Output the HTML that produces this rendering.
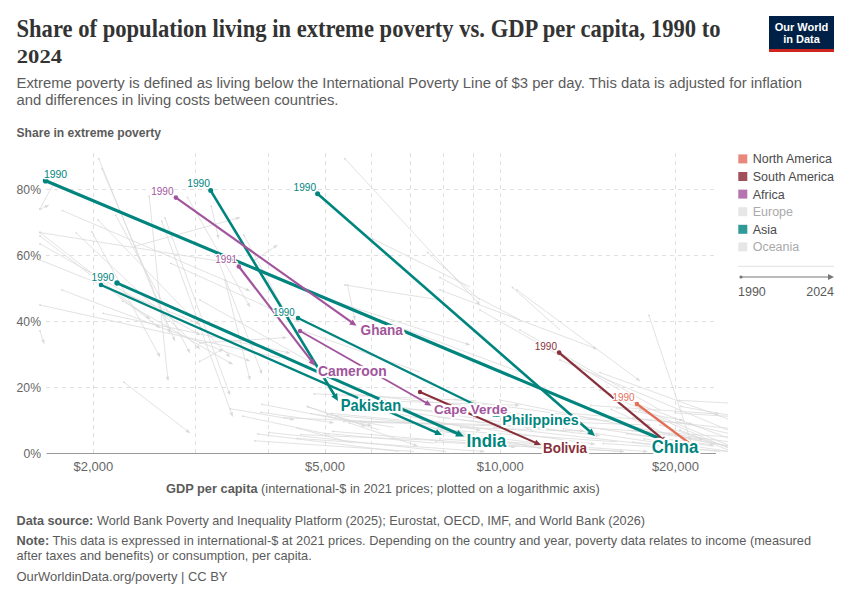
<!DOCTYPE html>
<html><head><meta charset="utf-8"><title>Share of population living in extreme poverty vs. GDP per capita</title>
<style>
html,body{margin:0;padding:0;background:#fff;}
svg{display:block;}
.t{font-family:"Liberation Serif",serif;font-weight:bold;fill:#333;}
.s{font-family:"Liberation Sans",sans-serif;}
</style></head><body>
<svg width="850" height="600" viewBox="0 0 850 600">
<rect width="850" height="600" fill="#fff"/>

<text class="t" x="16.5" y="36.9" font-size="24.5" textLength="704" lengthAdjust="spacingAndGlyphs">Share of population living in extreme poverty vs. GDP per capita, 1990 to</text>
<text class="t" x="16.8" y="62.7" font-size="18" textLength="45.2" lengthAdjust="spacingAndGlyphs">2024</text>
<rect x="769" y="16" width="65" height="36" fill="#002147"/><rect x="769" y="49" width="65" height="3" fill="#ce261e"/>
<text class="s" x="801.5" y="30.5" font-size="11" font-weight="bold" fill="#fff" text-anchor="middle">Our World</text>
<text class="s" x="801.5" y="43" font-size="11" font-weight="bold" fill="#fff" text-anchor="middle">in Data</text>
<text class="s" x="16.5" y="88" font-size="15.5" fill="#5b5b5b" textLength="785.5" lengthAdjust="spacingAndGlyphs">Extreme poverty is defined as living below the International Poverty Line of $3 per day. This data is adjusted for inflation</text>
<text class="s" x="16.5" y="105.3" font-size="15.5" fill="#5b5b5b" textLength="322" lengthAdjust="spacingAndGlyphs">and differences in living costs between countries.</text>
<text class="s" x="16.5" y="137" font-size="12" font-weight="bold" fill="#5b5b5b" textLength="144.5" lengthAdjust="spacingAndGlyphs">Share in extreme poverty</text>
<line x1="46" y1="387.5" x2="715" y2="387.5" stroke="#e0e0e0" stroke-width="1" stroke-dasharray="4,4"/>
<line x1="46" y1="321.5" x2="715" y2="321.5" stroke="#e0e0e0" stroke-width="1" stroke-dasharray="4,4"/>
<line x1="46" y1="255.5" x2="715" y2="255.5" stroke="#e0e0e0" stroke-width="1" stroke-dasharray="4,4"/>
<line x1="46" y1="189.5" x2="715" y2="189.5" stroke="#e0e0e0" stroke-width="1" stroke-dasharray="4,4"/>
<line x1="93.5" y1="153" x2="93.5" y2="453" stroke="#e0e0e0" stroke-width="1" stroke-dasharray="4,4"/>
<line x1="195.5" y1="153" x2="195.5" y2="453" stroke="#e0e0e0" stroke-width="1" stroke-dasharray="4,4"/>
<line x1="268.5" y1="153" x2="268.5" y2="453" stroke="#e0e0e0" stroke-width="1" stroke-dasharray="4,4"/>
<line x1="325.5" y1="153" x2="325.5" y2="453" stroke="#e0e0e0" stroke-width="1" stroke-dasharray="4,4"/>
<line x1="371.5" y1="153" x2="371.5" y2="453" stroke="#e0e0e0" stroke-width="1" stroke-dasharray="4,4"/>
<line x1="410.5" y1="153" x2="410.5" y2="453" stroke="#e0e0e0" stroke-width="1" stroke-dasharray="4,4"/>
<line x1="443.5" y1="153" x2="443.5" y2="453" stroke="#e0e0e0" stroke-width="1" stroke-dasharray="4,4"/>
<line x1="473.5" y1="153" x2="473.5" y2="453" stroke="#e0e0e0" stroke-width="1" stroke-dasharray="4,4"/>
<line x1="500.5" y1="153" x2="500.5" y2="453" stroke="#e0e0e0" stroke-width="1" stroke-dasharray="4,4"/>
<line x1="675.5" y1="153" x2="675.5" y2="453" stroke="#e0e0e0" stroke-width="1" stroke-dasharray="4,4"/>
<text class="s" x="23.4" y="458.0" font-size="12.8" fill="#666" textLength="17.6" lengthAdjust="spacingAndGlyphs">0%</text>
<text class="s" x="16.6" y="392.0" font-size="12.8" fill="#666" textLength="24.4" lengthAdjust="spacingAndGlyphs">20%</text>
<text class="s" x="16.6" y="326.0" font-size="12.8" fill="#666" textLength="24.4" lengthAdjust="spacingAndGlyphs">40%</text>
<text class="s" x="16.6" y="260.0" font-size="12.8" fill="#666" textLength="24.4" lengthAdjust="spacingAndGlyphs">60%</text>
<text class="s" x="16.6" y="194.0" font-size="12.8" fill="#666" textLength="24.4" lengthAdjust="spacingAndGlyphs">80%</text>
<text class="s" x="93.4" y="471.3" font-size="13" fill="#666" text-anchor="middle">$2,000</text>
<text class="s" x="325.0" y="471.3" font-size="13" fill="#666" text-anchor="middle">$5,000</text>
<text class="s" x="500.2" y="471.3" font-size="13" fill="#666" text-anchor="middle">$10,000</text>
<text class="s" x="675.4" y="471.3" font-size="13" fill="#666" text-anchor="middle">$20,000</text>
<text class="s" x="166" y="492.5" font-size="12.8" fill="#5b5b5b"><tspan font-weight="bold">GDP per capita</tspan> (international-$ in 2021 prices; plotted on a logarithmic axis)</text>
<g stroke="#dadada" stroke-width="0.8" fill="none">
<line x1="98.75" y1="158.75" x2="170" y2="333"/>
<circle cx="98.75" cy="158.75" r="0.9" fill="#dadada" stroke="none"/>
<polygon points="170,333 166.8,330.0 170.2,328.6" fill="#dadada" stroke="none"/>
<line x1="102" y1="168.75" x2="175" y2="341"/>
<circle cx="102" cy="168.75" r="0.9" fill="#dadada" stroke="none"/>
<polygon points="175,341 171.8,338.0 175.1,336.6" fill="#dadada" stroke="none"/>
<line x1="149.25" y1="196.25" x2="168" y2="380.8"/>
<circle cx="149.25" cy="196.25" r="0.9" fill="#dadada" stroke="none"/>
<polygon points="168,380.8 165.8,377.0 169.4,376.6" fill="#dadada" stroke="none"/>
<line x1="62.5" y1="210.6" x2="250" y2="291"/>
<circle cx="62.5" cy="210.6" r="0.9" fill="#dadada" stroke="none"/>
<polygon points="250,291 245.6,291.1 247.0,287.8" fill="#dadada" stroke="none"/>
<line x1="98.1" y1="220" x2="230" y2="357"/>
<circle cx="98.1" cy="220" r="0.9" fill="#dadada" stroke="none"/>
<polygon points="230,357 225.9,355.4 228.5,352.9" fill="#dadada" stroke="none"/>
<line x1="115.6" y1="215" x2="190" y2="353"/>
<circle cx="115.6" cy="215" r="0.9" fill="#dadada" stroke="none"/>
<polygon points="190,353 186.5,350.3 189.7,348.6" fill="#dadada" stroke="none"/>
<line x1="76.25" y1="233.1" x2="200" y2="349"/>
<circle cx="76.25" cy="233.1" r="0.9" fill="#dadada" stroke="none"/>
<polygon points="200,349 195.9,347.6 198.3,345.0" fill="#dadada" stroke="none"/>
<line x1="91.9" y1="231.9" x2="160" y2="357"/>
<circle cx="91.9" cy="231.9" r="0.9" fill="#dadada" stroke="none"/>
<polygon points="160,357 156.5,354.3 159.7,352.6" fill="#dadada" stroke="none"/>
<line x1="40" y1="232.5" x2="240" y2="264.5"/>
<circle cx="40" cy="232.5" r="0.9" fill="#dadada" stroke="none"/>
<line x1="40" y1="232.5" x2="150" y2="319"/>
<circle cx="40" cy="232.5" r="0.9" fill="#dadada" stroke="none"/>
<polygon points="150,319 145.7,317.9 148.0,315.1" fill="#dadada" stroke="none"/>
<line x1="40" y1="236" x2="160" y2="328"/>
<circle cx="40" cy="236" r="0.9" fill="#dadada" stroke="none"/>
<polygon points="160,328 155.7,327.0 157.9,324.1" fill="#dadada" stroke="none"/>
<line x1="40" y1="243.75" x2="200" y2="335"/>
<circle cx="40" cy="243.75" r="0.9" fill="#dadada" stroke="none"/>
<polygon points="200,335 195.6,334.6 197.4,331.5" fill="#dadada" stroke="none"/>
<line x1="40" y1="260" x2="200" y2="324"/>
<circle cx="40" cy="260" r="0.9" fill="#dadada" stroke="none"/>
<polygon points="200,324 195.6,324.2 197.0,320.8" fill="#dadada" stroke="none"/>
<line x1="161.75" y1="221.25" x2="232.6" y2="416.5"/>
<circle cx="161.75" cy="221.25" r="0.9" fill="#dadada" stroke="none"/>
<polygon points="232.6,416.5 229.5,413.4 232.9,412.1" fill="#dadada" stroke="none"/>
<line x1="187.5" y1="197.5" x2="250" y2="307"/>
<circle cx="187.5" cy="197.5" r="0.9" fill="#dadada" stroke="none"/>
<polygon points="250,307 246.5,304.4 249.6,302.6" fill="#dadada" stroke="none"/>
<line x1="211.25" y1="206.25" x2="218.75" y2="238.75"/>
<circle cx="211.25" cy="206.25" r="0.9" fill="#dadada" stroke="none"/>
<polygon points="218.75,238.75 216.1,235.3 219.6,234.4" fill="#dadada" stroke="none"/>
<line x1="135" y1="246.25" x2="240" y2="217.5"/>
<circle cx="135" cy="246.25" r="0.9" fill="#dadada" stroke="none"/>
<polygon points="240,217.5 236.6,220.3 235.7,216.8" fill="#dadada" stroke="none"/>
<line x1="40" y1="209.4" x2="48.75" y2="205"/>
<circle cx="40" cy="209.4" r="0.9" fill="#dadada" stroke="none"/>
<polygon points="48.75,205 46.0,208.4 44.4,205.2" fill="#dadada" stroke="none"/>
<line x1="40" y1="208.75" x2="55" y2="181"/>
<circle cx="40" cy="208.75" r="0.9" fill="#dadada" stroke="none"/>
<line x1="170.8" y1="263.3" x2="300" y2="322"/>
<circle cx="170.8" cy="263.3" r="0.9" fill="#dadada" stroke="none"/>
<polygon points="300,322 295.6,322.0 297.1,318.7" fill="#dadada" stroke="none"/>
<line x1="165" y1="218" x2="230" y2="395"/>
<circle cx="165" cy="218" r="0.9" fill="#dadada" stroke="none"/>
<polygon points="230,395 226.9,391.9 230.3,390.6" fill="#dadada" stroke="none"/>
<line x1="218" y1="260" x2="262" y2="374"/>
<circle cx="218" cy="260" r="0.9" fill="#dadada" stroke="none"/>
<polygon points="262,374 258.9,370.9 262.2,369.6" fill="#dadada" stroke="none"/>
<line x1="123.9" y1="382.2" x2="189.9" y2="433"/>
<circle cx="123.9" cy="382.2" r="0.9" fill="#dadada" stroke="none"/>
<polygon points="189.9,433 185.6,432.0 187.8,429.1" fill="#dadada" stroke="none"/>
<line x1="40" y1="331" x2="44.1" y2="343.6"/>
<circle cx="40" cy="331" r="0.9" fill="#dadada" stroke="none"/>
<polygon points="44.1,343.6 41.2,340.4 44.6,339.2" fill="#dadada" stroke="none"/>
<line x1="40" y1="305" x2="280" y2="358"/>
<circle cx="40" cy="305" r="0.9" fill="#dadada" stroke="none"/>
<line x1="62" y1="290" x2="250" y2="361"/>
<circle cx="62" cy="290" r="0.9" fill="#dadada" stroke="none"/>
<polygon points="250,361 245.6,361.3 246.9,357.9" fill="#dadada" stroke="none"/>
<line x1="103.3" y1="313.4" x2="290" y2="353"/>
<circle cx="103.3" cy="313.4" r="0.9" fill="#dadada" stroke="none"/>
<polygon points="290,353 285.7,353.9 286.5,350.4" fill="#dadada" stroke="none"/>
<line x1="199.6" y1="361.5" x2="223" y2="349"/>
<circle cx="199.6" cy="361.5" r="0.9" fill="#dadada" stroke="none"/>
<polygon points="223,349 220.3,352.5 218.6,349.3" fill="#dadada" stroke="none"/>
<line x1="122.5" y1="301" x2="232.6" y2="364.3"/>
<circle cx="122.5" cy="301" r="0.9" fill="#dadada" stroke="none"/>
<polygon points="232.6,364.3 228.2,363.9 230.0,360.7" fill="#dadada" stroke="none"/>
<line x1="243.75" y1="235" x2="300" y2="340"/>
<circle cx="243.75" cy="235" r="0.9" fill="#dadada" stroke="none"/>
<line x1="255" y1="260" x2="277.5" y2="245"/>
<circle cx="255" cy="260" r="0.9" fill="#dadada" stroke="none"/>
<polygon points="277.5,245 275.2,248.7 273.2,245.7" fill="#dadada" stroke="none"/>
<line x1="345" y1="158.75" x2="480" y2="305"/>
<circle cx="345" cy="158.75" r="0.9" fill="#dadada" stroke="none"/>
<polygon points="480,305 476.0,303.3 478.6,300.8" fill="#dadada" stroke="none"/>
<line x1="372.5" y1="238.75" x2="470" y2="287"/>
<circle cx="372.5" cy="238.75" r="0.9" fill="#dadada" stroke="none"/>
<line x1="427.5" y1="252.5" x2="480" y2="300"/>
<circle cx="427.5" cy="252.5" r="0.9" fill="#dadada" stroke="none"/>
<line x1="345" y1="285" x2="440" y2="300"/>
<circle cx="345" cy="285" r="0.9" fill="#dadada" stroke="none"/>
<line x1="347.5" y1="285" x2="355" y2="320"/>
<circle cx="347.5" cy="285" r="0.9" fill="#dadada" stroke="none"/>
<polygon points="355,320 352.4,316.5 355.9,315.7" fill="#dadada" stroke="none"/>
<line x1="440" y1="277.5" x2="520" y2="320"/>
<circle cx="440" cy="277.5" r="0.9" fill="#dadada" stroke="none"/>
<line x1="512.5" y1="287.5" x2="560" y2="330"/>
<circle cx="512.5" cy="287.5" r="0.9" fill="#dadada" stroke="none"/>
<line x1="517" y1="290" x2="640" y2="381"/>
<circle cx="517" cy="290" r="0.9" fill="#dadada" stroke="none"/>
<polygon points="640,381 635.7,380.1 637.9,377.2" fill="#dadada" stroke="none"/>
<line x1="440" y1="290" x2="597" y2="349"/>
<circle cx="440" cy="290" r="0.9" fill="#dadada" stroke="none"/>
<polygon points="597,349 592.6,349.3 593.9,345.9" fill="#dadada" stroke="none"/>
<line x1="648.9" y1="315.3" x2="690.7" y2="441.2"/>
<circle cx="648.9" cy="315.3" r="0.9" fill="#dadada" stroke="none"/>
<polygon points="690.7,441.2 687.7,438.0 691.1,436.8" fill="#dadada" stroke="none"/>
<line x1="600" y1="372.5" x2="728" y2="419"/>
<circle cx="600" cy="372.5" r="0.9" fill="#dadada" stroke="none"/>
<line x1="200" y1="300" x2="330" y2="373"/>
<circle cx="200" cy="300" r="0.9" fill="#dadada" stroke="none"/>
<line x1="200" y1="343" x2="286.7" y2="337.5"/>
<circle cx="200" cy="343" r="0.9" fill="#dadada" stroke="none"/>
<polygon points="286.7,337.5 282.8,339.5 282.6,336.0" fill="#dadada" stroke="none"/>
<line x1="225" y1="280" x2="250" y2="380"/>
<circle cx="225" cy="280" r="0.9" fill="#dadada" stroke="none"/>
<polygon points="250,380 247.3,376.6 250.8,375.7" fill="#dadada" stroke="none"/>
<line x1="300" y1="330" x2="420" y2="372"/>
<circle cx="300" cy="330" r="0.9" fill="#dadada" stroke="none"/>
<line x1="330" y1="300" x2="470" y2="345"/>
<circle cx="330" cy="300" r="0.9" fill="#dadada" stroke="none"/>
<polygon points="470,345 465.6,345.5 466.7,342.1" fill="#dadada" stroke="none"/>
<line x1="380" y1="320" x2="520" y2="372"/>
<circle cx="380" cy="320" r="0.9" fill="#dadada" stroke="none"/>
<line x1="480" y1="310" x2="620" y2="390"/>
<circle cx="480" cy="310" r="0.9" fill="#dadada" stroke="none"/>
<line x1="520" y1="330" x2="660" y2="410"/>
<circle cx="520" cy="330" r="0.9" fill="#dadada" stroke="none"/>
<line x1="560" y1="360" x2="728" y2="430"/>
<circle cx="560" cy="360" r="0.9" fill="#dadada" stroke="none"/>
<line x1="600" y1="390" x2="728" y2="438"/>
<circle cx="600" cy="390" r="0.9" fill="#dadada" stroke="none"/>
<line x1="620" y1="400" x2="728" y2="445"/>
<circle cx="620" cy="400" r="0.9" fill="#dadada" stroke="none"/>
<line x1="640" y1="410" x2="728" y2="448"/>
<circle cx="640" cy="410" r="0.9" fill="#dadada" stroke="none"/>
<line x1="660" y1="425" x2="728" y2="447"/>
<circle cx="660" cy="425" r="0.9" fill="#dadada" stroke="none"/>
<line x1="680" y1="430" x2="728" y2="450"/>
<circle cx="680" cy="430" r="0.9" fill="#dadada" stroke="none"/>
<line x1="500" y1="400" x2="728" y2="446"/>
<circle cx="500" cy="400" r="0.9" fill="#dadada" stroke="none"/>
<line x1="379.0" y1="408.7" x2="520.1" y2="413.3"/>
<circle cx="379.0" cy="408.7" r="0.9" fill="#dadada" stroke="none"/>
<line x1="398.2" y1="401.4" x2="519.3" y2="405.2"/>
<circle cx="398.2" cy="401.4" r="0.9" fill="#dadada" stroke="none"/>
<polygon points="519.3,405.2 515.2,406.9 515.4,403.3" fill="#dadada" stroke="none"/>
<line x1="262.1" y1="404.3" x2="371.6" y2="425.5"/>
<circle cx="262.1" cy="404.3" r="0.9" fill="#dadada" stroke="none"/>
<polygon points="371.6,425.5 367.3,426.5 368.0,423.0" fill="#dadada" stroke="none"/>
<line x1="332.7" y1="431.3" x2="515.4" y2="447.0"/>
<circle cx="332.7" cy="431.3" r="0.9" fill="#dadada" stroke="none"/>
<polygon points="515.4,447.0 511.3,448.5 511.6,444.9" fill="#dadada" stroke="none"/>
<line x1="679.1" y1="400.3" x2="728" y2="403.0"/>
<circle cx="679.1" cy="400.3" r="0.9" fill="#dadada" stroke="none"/>
<line x1="284.2" y1="417.7" x2="448.4" y2="424.7"/>
<circle cx="284.2" cy="417.7" r="0.9" fill="#dadada" stroke="none"/>
<line x1="523.9" y1="420.7" x2="650.6" y2="425.1"/>
<circle cx="523.9" cy="420.7" r="0.9" fill="#dadada" stroke="none"/>
<polygon points="650.6,425.1 646.5,426.8 646.7,423.2" fill="#dadada" stroke="none"/>
<line x1="324.7" y1="433.3" x2="434.6" y2="443.2"/>
<circle cx="324.7" cy="433.3" r="0.9" fill="#dadada" stroke="none"/>
<line x1="438.5" y1="417.2" x2="599.7" y2="435.6"/>
<circle cx="438.5" cy="417.2" r="0.9" fill="#dadada" stroke="none"/>
<polygon points="599.7,435.6 595.5,436.9 595.9,433.4" fill="#dadada" stroke="none"/>
<line x1="494.2" y1="427.3" x2="666.8" y2="446.4"/>
<circle cx="494.2" cy="427.3" r="0.9" fill="#dadada" stroke="none"/>
<polygon points="666.8,446.4 662.6,447.7 663.0,444.2" fill="#dadada" stroke="none"/>
<line x1="680.9" y1="406.4" x2="728" y2="415.0"/>
<circle cx="680.9" cy="406.4" r="0.9" fill="#dadada" stroke="none"/>
<line x1="454.9" y1="399.4" x2="598.5" y2="419.3"/>
<circle cx="454.9" cy="399.4" r="0.9" fill="#dadada" stroke="none"/>
<line x1="632.7" y1="417.9" x2="728" y2="428.3"/>
<circle cx="632.7" cy="417.9" r="0.9" fill="#dadada" stroke="none"/>
<line x1="439.9" y1="438.8" x2="622.1" y2="451.5"/>
<circle cx="439.9" cy="438.8" r="0.9" fill="#dadada" stroke="none"/>
<line x1="257.9" y1="434.0" x2="398.5" y2="451.5"/>
<circle cx="257.9" cy="434.0" r="0.9" fill="#dadada" stroke="none"/>
<line x1="360.9" y1="421.4" x2="504.5" y2="424.9"/>
<circle cx="360.9" cy="421.4" r="0.9" fill="#dadada" stroke="none"/>
<line x1="307.3" y1="406.4" x2="365.6" y2="426.3"/>
<circle cx="307.3" cy="406.4" r="0.9" fill="#dadada" stroke="none"/>
<polygon points="365.6,426.3 361.2,426.7 362.4,423.3" fill="#dadada" stroke="none"/>
<line x1="343.9" y1="421.6" x2="515.9" y2="426.4"/>
<circle cx="343.9" cy="421.6" r="0.9" fill="#dadada" stroke="none"/>
<polygon points="515.9,426.4 511.9,428.1 512.0,424.5" fill="#dadada" stroke="none"/>
<line x1="482.7" y1="440.3" x2="647.4" y2="451.5"/>
<circle cx="482.7" cy="440.3" r="0.9" fill="#dadada" stroke="none"/>
<polygon points="647.4,451.5 643.3,453.0 643.5,449.4" fill="#dadada" stroke="none"/>
<line x1="421.0" y1="420.1" x2="594.8" y2="444.2"/>
<circle cx="421.0" cy="420.1" r="0.9" fill="#dadada" stroke="none"/>
<polygon points="594.8,444.2 590.6,445.4 591.1,441.9" fill="#dadada" stroke="none"/>
<line x1="311.1" y1="413.6" x2="393.7" y2="427.3"/>
<circle cx="311.1" cy="413.6" r="0.9" fill="#dadada" stroke="none"/>
<line x1="350.9" y1="393.9" x2="459.5" y2="405.0"/>
<circle cx="350.9" cy="393.9" r="0.9" fill="#dadada" stroke="none"/>
<line x1="668.4" y1="433.6" x2="728" y2="441.7"/>
<circle cx="668.4" cy="433.6" r="0.9" fill="#dadada" stroke="none"/>
<line x1="254.8" y1="440.8" x2="414.0" y2="451.5"/>
<circle cx="254.8" cy="440.8" r="0.9" fill="#dadada" stroke="none"/>
<line x1="410.5" y1="422.0" x2="475.0" y2="438.9"/>
<circle cx="410.5" cy="422.0" r="0.9" fill="#dadada" stroke="none"/>
<polygon points="475.0,438.9 470.7,439.6 471.6,436.1" fill="#dadada" stroke="none"/>
<line x1="261.0" y1="412.3" x2="333.7" y2="422.8"/>
<circle cx="261.0" cy="412.3" r="0.9" fill="#dadada" stroke="none"/>
<polygon points="333.7,422.8 329.5,424.0 330.0,420.4" fill="#dadada" stroke="none"/>
<line x1="230.1" y1="408.7" x2="294.3" y2="419.7"/>
<circle cx="230.1" cy="408.7" r="0.9" fill="#dadada" stroke="none"/>
<polygon points="294.3,419.7 290.1,420.8 290.7,417.3" fill="#dadada" stroke="none"/>
<line x1="632.2" y1="430.8" x2="703.0" y2="439.4"/>
<circle cx="632.2" cy="430.8" r="0.9" fill="#dadada" stroke="none"/>
<polygon points="703.0,439.4 698.8,440.7 699.2,437.1" fill="#dadada" stroke="none"/>
<line x1="397.5" y1="406.8" x2="566.4" y2="431.6"/>
<circle cx="397.5" cy="406.8" r="0.9" fill="#dadada" stroke="none"/>
<line x1="452.6" y1="403.9" x2="516.9" y2="414.5"/>
<circle cx="452.6" cy="403.9" r="0.9" fill="#dadada" stroke="none"/>
<polygon points="516.9,414.5 512.7,415.6 513.2,412.1" fill="#dadada" stroke="none"/>
<line x1="611.3" y1="409.4" x2="664.5" y2="433.3"/>
<circle cx="611.3" cy="409.4" r="0.9" fill="#dadada" stroke="none"/>
<line x1="297.4" y1="428.1" x2="351.2" y2="442.7"/>
<circle cx="297.4" cy="428.1" r="0.9" fill="#dadada" stroke="none"/>
<line x1="627.1" y1="433.8" x2="713.7" y2="444.9"/>
<circle cx="627.1" cy="433.8" r="0.9" fill="#dadada" stroke="none"/>
<polygon points="713.7,444.9 709.5,446.2 710.0,442.6" fill="#dadada" stroke="none"/>
<line x1="585.1" y1="427.6" x2="728" y2="436.8"/>
<circle cx="585.1" cy="427.6" r="0.9" fill="#dadada" stroke="none"/>
<line x1="603.3" y1="443.5" x2="728" y2="451.5"/>
<circle cx="603.3" cy="443.5" r="0.9" fill="#dadada" stroke="none"/>
<line x1="570.3" y1="413.3" x2="692.8" y2="424.2"/>
<circle cx="570.3" cy="413.3" r="0.9" fill="#dadada" stroke="none"/>
<polygon points="692.8,424.2 688.7,425.6 689.0,422.1" fill="#dadada" stroke="none"/>
<line x1="242.9" y1="416.2" x2="329.1" y2="434.4"/>
<circle cx="242.9" cy="416.2" r="0.9" fill="#dadada" stroke="none"/>
<line x1="435.7" y1="442.0" x2="624.1" y2="451.5"/>
<circle cx="435.7" cy="442.0" r="0.9" fill="#dadada" stroke="none"/>
<polygon points="624.1,451.5 620.0,453.1 620.2,449.5" fill="#dadada" stroke="none"/>
<line x1="331.4" y1="413.4" x2="409.0" y2="420.8"/>
<circle cx="331.4" cy="413.4" r="0.9" fill="#dadada" stroke="none"/>
<line x1="644.1" y1="438.8" x2="728" y2="451.3"/>
<circle cx="644.1" cy="438.8" r="0.9" fill="#dadada" stroke="none"/>
<line x1="269.0" y1="432.5" x2="446.4" y2="451.5"/>
<circle cx="269.0" cy="432.5" r="0.9" fill="#dadada" stroke="none"/>
<line x1="449.9" y1="410.5" x2="610.4" y2="420.8"/>
<circle cx="449.9" cy="410.5" r="0.9" fill="#dadada" stroke="none"/>
<line x1="677.0" y1="421.8" x2="728" y2="433.3"/>
<circle cx="677.0" cy="421.8" r="0.9" fill="#dadada" stroke="none"/>
<line x1="308.2" y1="407.1" x2="379.4" y2="430.0"/>
<circle cx="308.2" cy="407.1" r="0.9" fill="#dadada" stroke="none"/>
<line x1="297.2" y1="438.4" x2="484.5" y2="451.5"/>
<circle cx="297.2" cy="438.4" r="0.9" fill="#dadada" stroke="none"/>
<polygon points="484.5,451.5 480.4,453.0 480.6,449.4" fill="#dadada" stroke="none"/>
<line x1="482.4" y1="407.4" x2="534.4" y2="431.7"/>
<circle cx="482.4" cy="407.4" r="0.9" fill="#dadada" stroke="none"/>
<line x1="472.2" y1="441.9" x2="583.0" y2="451.5"/>
<circle cx="472.2" cy="441.9" r="0.9" fill="#dadada" stroke="none"/>
<line x1="327.1" y1="414.7" x2="418.1" y2="423.0"/>
<circle cx="327.1" cy="414.7" r="0.9" fill="#dadada" stroke="none"/>
<line x1="349.3" y1="422.9" x2="417.7" y2="445.9"/>
<circle cx="349.3" cy="422.9" r="0.9" fill="#dadada" stroke="none"/>
<polygon points="417.7,445.9 413.3,446.3 414.5,442.9" fill="#dadada" stroke="none"/>
<line x1="440.8" y1="429.6" x2="617.4" y2="441.9"/>
<circle cx="440.8" cy="429.6" r="0.9" fill="#dadada" stroke="none"/>
<line x1="460.8" y1="427.6" x2="584.0" y2="431.0"/>
<circle cx="460.8" cy="427.6" r="0.9" fill="#dadada" stroke="none"/>
<polygon points="584.0,431.0 580.0,432.7 580.1,429.1" fill="#dadada" stroke="none"/>
<line x1="314.2" y1="393.9" x2="476.1" y2="400.7"/>
<circle cx="314.2" cy="393.9" r="0.9" fill="#dadada" stroke="none"/>
<line x1="563.6" y1="428.6" x2="659.2" y2="443.0"/>
<circle cx="563.6" cy="428.6" r="0.9" fill="#dadada" stroke="none"/>
<line x1="590.8" y1="405.5" x2="719.2" y2="414.0"/>
<circle cx="590.8" cy="405.5" r="0.9" fill="#dadada" stroke="none"/>
<polygon points="719.2,414.0 715.1,415.5 715.3,411.9" fill="#dadada" stroke="none"/>
<line x1="585.2" y1="426.6" x2="713.9" y2="446.3"/>
<circle cx="585.2" cy="426.6" r="0.9" fill="#dadada" stroke="none"/>
<line x1="433.9" y1="430.8" x2="554.7" y2="445.0"/>
<circle cx="433.9" cy="430.8" r="0.9" fill="#dadada" stroke="none"/>
<line x1="438.1" y1="427.7" x2="555.0" y2="451.4"/>
<circle cx="438.1" cy="427.7" r="0.9" fill="#dadada" stroke="none"/>
<line x1="633.2" y1="442.2" x2="719.5" y2="451.5"/>
<circle cx="633.2" cy="442.2" r="0.9" fill="#dadada" stroke="none"/>
<line x1="616.4" y1="407.8" x2="683.4" y2="420.5"/>
<circle cx="616.4" cy="407.8" r="0.9" fill="#dadada" stroke="none"/>
<polygon points="683.4,420.5 679.1,421.5 679.8,418.0" fill="#dadada" stroke="none"/>
<line x1="340.7" y1="402.8" x2="484.4" y2="423.1"/>
<circle cx="340.7" cy="402.8" r="0.9" fill="#dadada" stroke="none"/>
<line x1="301.0" y1="434.6" x2="443.5" y2="440.7"/>
<circle cx="301.0" cy="434.6" r="0.9" fill="#dadada" stroke="none"/>
<line x1="675.1" y1="412.9" x2="728" y2="416.3"/>
<circle cx="675.1" cy="412.9" r="0.9" fill="#dadada" stroke="none"/>
<line x1="685.3" y1="438.6" x2="728" y2="445.9"/>
<circle cx="685.3" cy="438.6" r="0.9" fill="#dadada" stroke="none"/>
<line x1="386.0" y1="411.5" x2="480.6" y2="430.4"/>
<circle cx="386.0" cy="411.5" r="0.9" fill="#dadada" stroke="none"/>
<polygon points="480.6,430.4 476.3,431.4 477.0,427.9" fill="#dadada" stroke="none"/>
</g>
<line x1="46.5" y1="453.5" x2="716" y2="453.5" stroke="#999" stroke-width="1"/>
<line x1="45.6" y1="180.8" x2="662" y2="439.5" stroke="#00847e" stroke-width="3.1"/><circle cx="45.6" cy="180.8" r="2.8" fill="#00847e"/>
<line x1="210.7" y1="190.6" x2="334.7" y2="395.5" stroke="#00847e" stroke-width="2.6"/><polygon points="338.0,401.0 331.3,396.4 337.1,392.9" fill="#00847e"/><circle cx="210.7" cy="190.6" r="2.5" fill="#00847e"/>
<line x1="317.6" y1="193.8" x2="590.2" y2="431.8" stroke="#00847e" stroke-width="2.6"/><polygon points="595.0,436.0 587.2,433.7 591.6,428.6" fill="#00847e"/><circle cx="317.6" cy="193.8" r="2.5" fill="#00847e"/>
<line x1="298" y1="318" x2="494.8" y2="414.4" stroke="#00847e" stroke-width="2.2"/><polygon points="500.0,417.0 492.5,416.8 495.2,411.3" fill="#00847e"/><circle cx="298" cy="318" r="2.3" fill="#00847e"/>
<line x1="101" y1="285" x2="436.6" y2="432.6" stroke="#00847e" stroke-width="2.3"/><polygon points="442.0,435.0 434.4,435.1 436.9,429.3" fill="#00847e"/><circle cx="101" cy="285" r="2.3" fill="#00847e"/>
<line x1="117" y1="283" x2="457.6" y2="433.7" stroke="#00847e" stroke-width="3.0"/><polygon points="464.0,436.5 455.2,436.6 458.2,429.9" fill="#00847e"/><circle cx="117" cy="283" r="2.7" fill="#00847e"/>
<line x1="175.9" y1="197.6" x2="351.8" y2="322.4" stroke="#a2559c" stroke-width="2.2"/><polygon points="356.5,325.8 349.2,324.4 352.7,319.4" fill="#a2559c"/><circle cx="175.9" cy="197.6" r="2.3" fill="#a2559c"/>
<line x1="238.8" y1="266.5" x2="311.8" y2="361.3" stroke="#a2559c" stroke-width="2.2"/><polygon points="315.3,365.9 308.7,362.4 313.6,358.6" fill="#a2559c"/><circle cx="238.8" cy="266.5" r="2.3" fill="#a2559c"/>
<line x1="300" y1="331" x2="426.6" y2="403.0" stroke="#a2559c" stroke-width="2.0"/><polygon points="431.4,405.7 424.3,405.0 427.2,400.0" fill="#a2559c"/><circle cx="300" cy="331" r="2.2" fill="#a2559c"/>
<line x1="420" y1="392" x2="536.0" y2="442.8" stroke="#883039" stroke-width="2.0"/><polygon points="541.0,445.0 533.9,445.0 536.2,439.7" fill="#883039"/><circle cx="420" cy="392" r="2.2" fill="#883039"/>
<line x1="559.1" y1="352.6" x2="662.9" y2="439.3" stroke="#883039" stroke-width="2.2"/><polygon points="667.4,443.0 660.2,441.0 664.1,436.3" fill="#883039"/><circle cx="559.1" cy="352.6" r="2.3" fill="#883039"/>
<line x1="636.9" y1="404" x2="690.4" y2="444.0" stroke="#e56e5a" stroke-width="2.2"/><polygon points="695.0,447.5 687.7,445.9 691.4,441.0" fill="#e56e5a"/><circle cx="636.9" cy="404" r="2.3" fill="#e56e5a"/>
<text class="s" x="44" y="177.7" font-size="10" fill="#00847e" stroke="#fff" stroke-width="2.5" paint-order="stroke" stroke-linejoin="round" textLength="23.1" lengthAdjust="spacingAndGlyphs">1990</text>
<text class="s" x="187.2" y="186.6" font-size="10" fill="#00847e" stroke="#fff" stroke-width="2.5" paint-order="stroke" stroke-linejoin="round" textLength="22.8" lengthAdjust="spacingAndGlyphs">1990</text>
<text class="s" x="293.6" y="190.7" font-size="10" fill="#00847e" stroke="#fff" stroke-width="2.5" paint-order="stroke" stroke-linejoin="round" textLength="22.4" lengthAdjust="spacingAndGlyphs">1990</text>
<text class="s" x="273" y="315.6" font-size="10" fill="#00847e" stroke="#fff" stroke-width="2.5" paint-order="stroke" stroke-linejoin="round" textLength="21.7" lengthAdjust="spacingAndGlyphs">1990</text>
<text class="s" x="91.6" y="280.5" font-size="10" fill="#00847e" stroke="#fff" stroke-width="2.5" paint-order="stroke" stroke-linejoin="round" textLength="22.4" lengthAdjust="spacingAndGlyphs">1990</text>
<text class="s" x="151.2" y="194.6" font-size="10" fill="#a2559c" stroke="#fff" stroke-width="2.5" paint-order="stroke" stroke-linejoin="round" textLength="22.3" lengthAdjust="spacingAndGlyphs">1990</text>
<text class="s" x="215.3" y="263" font-size="10" fill="#a2559c" stroke="#fff" stroke-width="2.5" paint-order="stroke" stroke-linejoin="round" textLength="21.7" lengthAdjust="spacingAndGlyphs">1991</text>
<text class="s" x="534.7" y="349.6" font-size="10" fill="#883039" stroke="#fff" stroke-width="2.5" paint-order="stroke" stroke-linejoin="round" textLength="22.3" lengthAdjust="spacingAndGlyphs">1990</text>
<text class="s" x="612.4" y="400.5" font-size="10" fill="#e56e5a" stroke="#fff" stroke-width="2.5" paint-order="stroke" stroke-linejoin="round" textLength="22.1" lengthAdjust="spacingAndGlyphs">1990</text>
<text class="s" x="651.7" y="453.4" font-size="18.8" font-weight="bold" fill="#00847e" stroke="#fff" stroke-width="4.5" paint-order="stroke" stroke-linejoin="round" textLength="46.6" lengthAdjust="spacingAndGlyphs">China</text>
<text class="s" x="466.6" y="447.4" font-size="18.7" font-weight="bold" fill="#00847e" stroke="#fff" stroke-width="4.5" paint-order="stroke" stroke-linejoin="round" textLength="39.6" lengthAdjust="spacingAndGlyphs">India</text>
<text class="s" x="340.8" y="411.4" font-size="15.9" font-weight="bold" fill="#00847e" stroke="#fff" stroke-width="4.5" paint-order="stroke" stroke-linejoin="round" textLength="60.4" lengthAdjust="spacingAndGlyphs">Pakistan</text>
<text class="s" x="502.3" y="424.6" font-size="14.8" font-weight="bold" fill="#00847e" stroke="#fff" stroke-width="4.5" paint-order="stroke" stroke-linejoin="round" textLength="76.3" lengthAdjust="spacingAndGlyphs">Philippines</text>
<text class="s" x="360.6" y="335.2" font-size="14.2" font-weight="bold" fill="#a2559c" stroke="#fff" stroke-width="4.5" paint-order="stroke" stroke-linejoin="round" textLength="42.3" lengthAdjust="spacingAndGlyphs">Ghana</text>
<text class="s" x="318" y="376.2" font-size="14.8" font-weight="bold" fill="#a2559c" stroke="#fff" stroke-width="4.5" paint-order="stroke" stroke-linejoin="round" textLength="68.7" lengthAdjust="spacingAndGlyphs">Cameroon</text>
<text class="s" x="434" y="414.4" font-size="13.7" font-weight="bold" fill="#a2559c" stroke="#fff" stroke-width="4.5" paint-order="stroke" stroke-linejoin="round" textLength="73.4" lengthAdjust="spacingAndGlyphs">Cape Verde</text>
<text class="s" x="543" y="453" font-size="14" font-weight="bold" fill="#883039" stroke="#fff" stroke-width="4.5" paint-order="stroke" stroke-linejoin="round" textLength="44" lengthAdjust="spacingAndGlyphs">Bolivia</text>
<rect x="738.3" y="154.4" width="9" height="9" fill="#e8887a"/>
<text class="s" x="752.7" y="163.4" font-size="12.5" fill="#4a4a4a">North America</text>
<rect x="738.3" y="172.0" width="9" height="9" fill="#a05058"/>
<text class="s" x="752.7" y="181.0" font-size="12.5" fill="#4a4a4a">South America</text>
<rect x="738.3" y="189.6" width="9" height="9" fill="#b574b0"/>
<text class="s" x="752.7" y="198.6" font-size="12.5" fill="#4a4a4a">Africa</text>
<rect x="738.3" y="207.2" width="9" height="9" fill="#e6e6e6"/>
<text class="s" x="752.7" y="216.2" font-size="12.5" fill="#aaa">Europe</text>
<rect x="738.3" y="224.8" width="9" height="9" fill="#2e9a95"/>
<text class="s" x="752.7" y="233.8" font-size="12.5" fill="#4a4a4a">Asia</text>
<rect x="738.3" y="242.4" width="9" height="9" fill="#e6e6e6"/>
<text class="s" x="752.7" y="251.4" font-size="12.5" fill="#aaa">Oceania</text>
<line x1="738" y1="266.3" x2="834" y2="266.3" stroke="#e0e0e0" stroke-width="1"/>
<line x1="741" y1="277" x2="829" y2="277" stroke="#777" stroke-width="1"/><circle cx="741" cy="277" r="1.6" fill="#777"/><polygon points="834,277 828,274 828,280" fill="#777"/>
<text class="s" x="738" y="295.6" font-size="12.5" fill="#5b5b5b">1990</text>
<text class="s" x="834" y="295.6" font-size="12.5" fill="#5b5b5b" text-anchor="end">2024</text>
<text class="s" x="16.5" y="525" font-size="12.8" fill="#5b5b5b" textLength="628.5" lengthAdjust="spacingAndGlyphs"><tspan font-weight="bold">Data source:</tspan> World Bank Poverty and Inequality Platform (2025); Eurostat, OECD, IMF, and World Bank (2026)</text>
<text class="s" x="16.5" y="545" font-size="12.8" fill="#5b5b5b" textLength="794.5" lengthAdjust="spacingAndGlyphs"><tspan font-weight="bold">Note:</tspan> This data is expressed in international-$ at 2021 prices. Depending on the country and year, poverty data relates to income (measured</text>
<text class="s" x="16.5" y="560" font-size="12.8" fill="#5b5b5b">after taxes and benefits) or consumption, per capita.</text>
<text class="s" x="16.5" y="580.5" font-size="12.8" fill="#5b5b5b" textLength="211" lengthAdjust="spacingAndGlyphs">OurWorldinData.org/poverty | CC BY</text>
</svg></body></html>
